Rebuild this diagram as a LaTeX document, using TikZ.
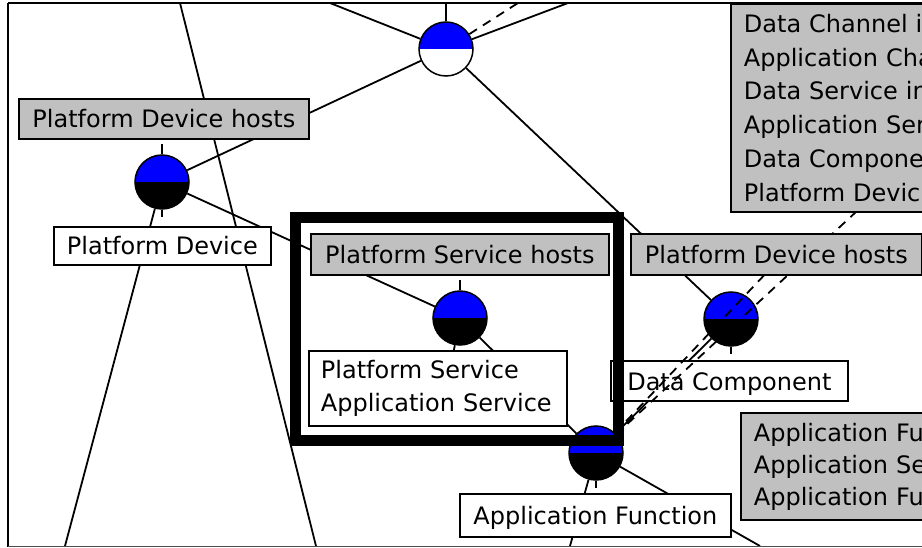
\documentclass[tikz,border=0pt]{standalone}
\usepackage{fontspec}
\setmainfont{DejaVu Sans}
\definecolor{lgray}{RGB}{192,192,192}
\definecolor{rblue}{RGB}{0,0,255}
\pgfdeclarelayer{lyrA}
\pgfdeclarelayer{lyrB}
\pgfdeclarelayer{lyrC}
\pgfdeclarelayer{lyrD}
\pgfdeclarelayer{lyrE}
\pgfsetlayers{lyrA,lyrB,lyrC,lyrD,lyrE,main}
\newcommand\lblfont{\fontsize{24}{33.8}\selectfont}
\newcommand\lblfontb{\fontsize{24}{32}\selectfont}
\tikzset{
  conn/.style={line width=1.8pt, black},
  dconn/.style={conn, dash pattern=on 9pt off 7pt},
  rel/.style 2 args={circle, draw=black, line width=1.5pt, minimum size=54pt, inner sep=0pt,
    path picture={\fill[#1] (path picture bounding box.north west) rectangle (path picture bounding box.east);
                  \fill[#2] (path picture bounding box.west) rectangle (path picture bounding box.south east);}},
  lbl/.style={draw=black, line width=1.8pt, inner sep=0pt, anchor=north west, font=\lblfont, text=black},
  one/.style={lbl, text height=18.2pt, text depth=0pt},
  gbox/.style={fill=lgray},
  wbox/.style={fill=white}
}
\begin{document}
\begin{tikzpicture}[x=1pt,y=-1pt]
\useasboundingbox (0,0) rectangle (922,548);

\begin{pgfonlayer}{lyrA}
\fill[white] (0,0) rectangle (922,548);
\end{pgfonlayer}

% relationship circles
\begin{pgfonlayer}{lyrB}
\node[rel={rblue}{white}] (ctop) at (446,49) {};
\node[rel={rblue}{black}] (cleft) at (162,182) {};
\node[rel={rblue}{black}] (cmid) at (460,318) {};
\node[rel={rblue}{black}] (cright) at (731,319) {};
\node[rel={rblue}{black}] (cbot) at (596,453) {};
\end{pgfonlayer}

% white labels
\begin{pgfonlayer}{lyrC}
\node[one, wbox, minimum width=217pt, minimum height=38pt] (lpd) at (53,226) {Platform Device};
\node[lbl, wbox, inner xsep=12pt, text width=234pt, minimum height=75pt, align=left] (psas) at (308,350) {Platform Service\\Application Service};
\node[one, wbox, minimum width=237pt, minimum height=40pt] (dc) at (610,360) {Data Component};
\node[one, wbox, minimum width=271pt, minimum height=43pt] (af) at (459,493) {Application Function};
\end{pgfonlayer}

% gray labels
\begin{pgfonlayer}{lyrE}
\node[one, gbox, minimum width=290pt, minimum height=40pt] (lpdh) at (18,98) {Platform Device hosts};
\node[one, gbox, minimum width=298pt, minimum height=41pt] (psh) at (310,233) {Platform Service hosts};
\node[one, gbox, minimum width=291pt, minimum height=41pt] (rpdh) at (630,233) {Platform Device hosts};
\node[lbl, gbox, inner xsep=13pt, text width=294pt, minimum height=208pt, align=left] (note) at (730,3)
  {Data Channel i\\Application Cha\\Data Service in\\Application Ser\\Data Compone\\Platform Devic};
\node[lbl, gbox, font=\lblfontb, inner xsep=13pt, text width=294pt, minimum height=107pt, align=left] (note2) at (740,412)
  {Application Fu\\Application Se\\Application Fu};
\end{pgfonlayer}

% free ends
\coordinate (etl) at (330,3);
\coordinate (etr) at (568,3);
\coordinate (etd) at (518,3);
\coordinate (etick) at (446,3);
\coordinate (ebl) at (65,546);
\coordinate (elt) at (180,3);
\coordinate (elb) at (316,546);
\coordinate (eb1) at (570,546);
\coordinate (eb2) at (760,546);
\coordinate (mend) at (452,360);
\coordinate (n1) at (857,211);
\coordinate (ltwo) at (788,250);

% solid connectors
\begin{pgfonlayer}{lyrA}
\draw[conn] (elt) -- (elb);
\draw[conn] (ctop.north) -- (etick);
\draw[conn] (ctop) -- (etl);
\draw[conn] (ctop) -- (etr);
\draw[conn] (ctop) -- (cleft);
\draw[conn] (ctop) -- (cright);
\draw[conn] (cleft) -- (cmid);
\draw[conn] (cleft) -- (ebl);
\draw[conn] (cmid) -- (cbot);
\draw[conn] (cmid) -- (mend);
\draw[conn] (cright) -- (cbot);
\draw[conn] (cbot) -- (eb1);
\draw[conn] (cbot) -- (eb2);
% role ticks
\draw[conn] (cleft.north) -- ++(0,-10);
\draw[conn] (cleft.south) -- ++(0,7);
\draw[conn] (cmid.north) -- ++(0,-10);
\draw[conn] (cright.south) -- ++(0,7);
\draw[conn] (cbot.south) -- ++(0,7);
\end{pgfonlayer}

% dashed connectors
\begin{pgfonlayer}{lyrD}
\draw[dconn] (ctop) -- (etd);
\draw[dconn] (n1) -- (cbot);
\draw[dconn] (cbot) -- (ltwo);
\end{pgfonlayer}

% selection frame and border
\draw[line width=11pt] (295,218) rectangle (618,440);
\draw[line width=1.8pt] (8,3) -- (930,3);
\draw[line width=1.8pt] (8,3) -- (8,546.5);
\draw[line width=1.8pt, black!70] (8,546.5) -- (930,546.5);
\end{tikzpicture}
\end{document}
